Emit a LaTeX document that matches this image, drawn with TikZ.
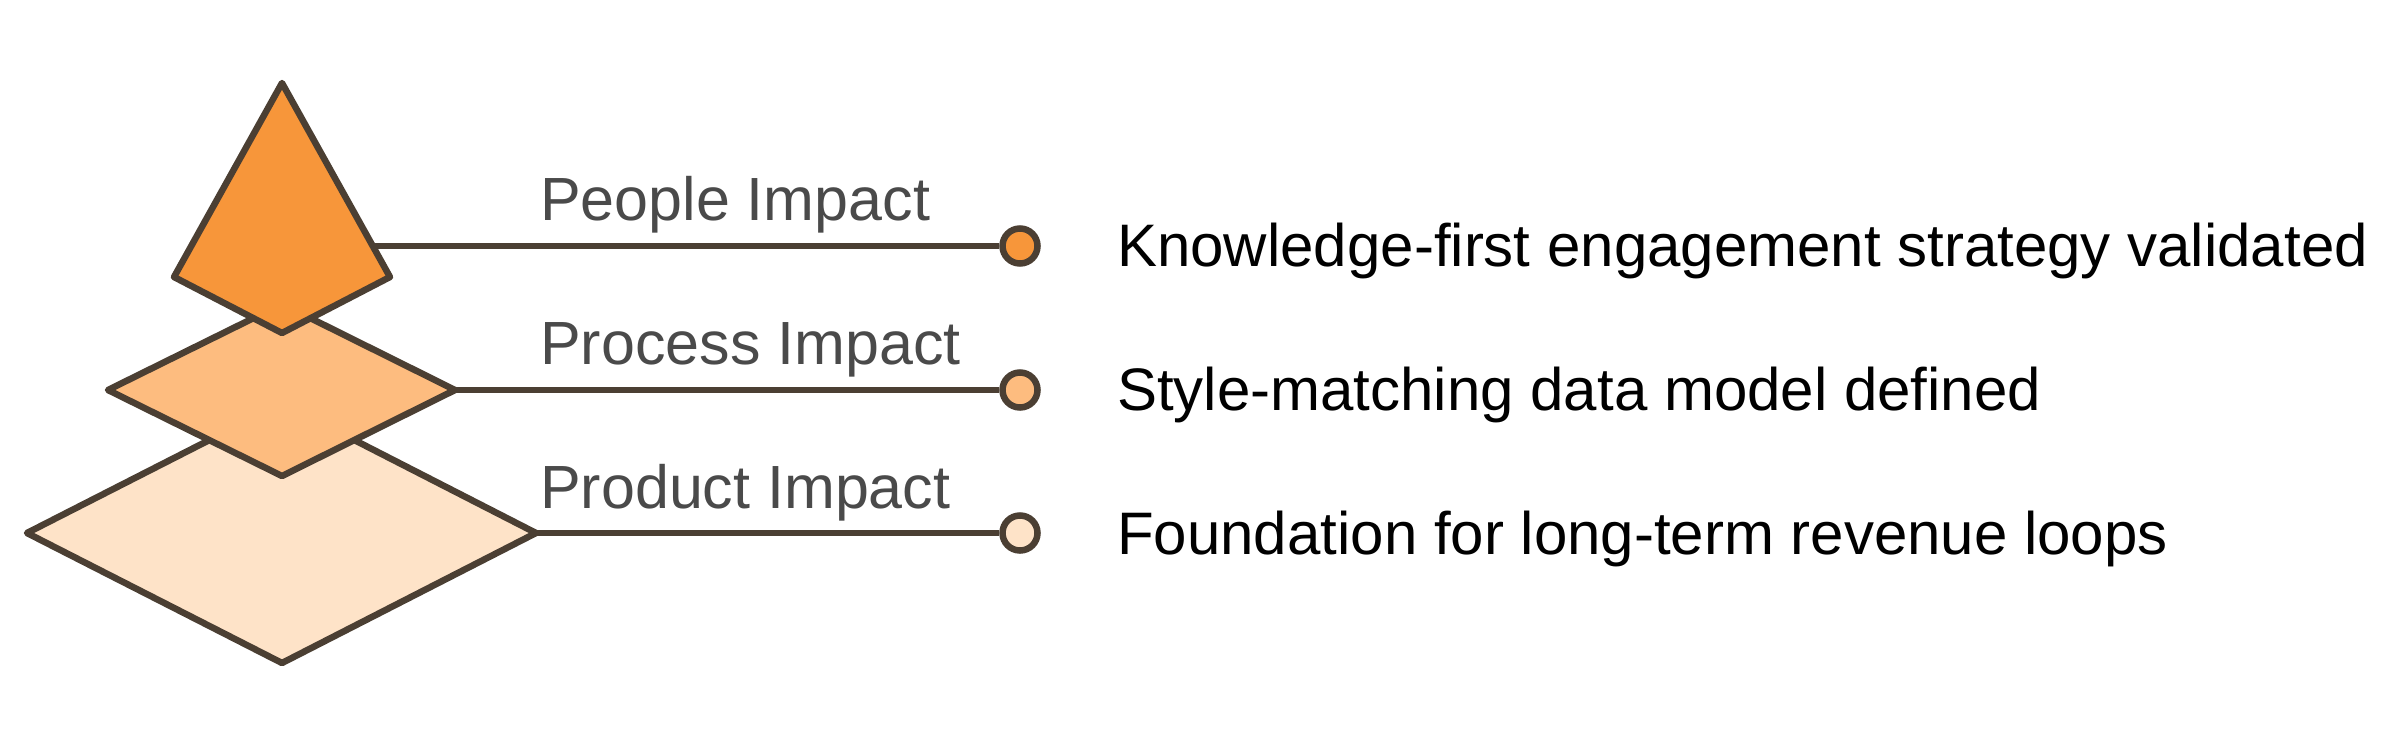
\documentclass[tikz,border=0pt]{standalone}
\usepackage{fontspec}
\setmainfont{Liberation Sans}
\definecolor{strokec}{HTML}{4B3F33}
\definecolor{fillA}{HTML}{F7963A}
\definecolor{fillB}{HTML}{FDBC7F}
\definecolor{fillC}{HTML}{FEE3C8}
\definecolor{labc}{HTML}{4A4A4A}
\begin{document}
\begin{tikzpicture}[x=1pt,y=-1pt,
  layer/.style={draw=strokec,line width=6.5pt,line join=round},
  conn/.style={draw=strokec,line width=6.5pt},
  dot/.style={circle,draw=strokec,line width=6.5pt,minimum size=35pt,inner sep=0pt},
  lab/.style={anchor=base west,inner sep=0pt,text=labc,font=\fontsize{61}{73}\selectfont},
  desc/.style={anchor=base west,inner sep=0pt,text=black,font=\fontsize{60}{72}\selectfont}]
\useasboundingbox (0,0) rectangle (2402,729);
% vertices
\coordinate (bl) at (27,533);  \coordinate (bt) at (282,403);
\coordinate (br) at (536,533); \coordinate (bb) at (282,663);
\coordinate (ml) at (108,390); \coordinate (mt) at (282,304);
\coordinate (mr) at (455,390); \coordinate (mb) at (282,476);
\coordinate (ta) at (282,83);  \coordinate (tl) at (174,277);
\coordinate (tr) at (390,277); \coordinate (tb) at (282,333);
\coordinate (te) at (373,246);
% layers
\filldraw[layer,fill=fillC] (bl) -- (bt) -- (br) -- (bb) -- cycle;
\filldraw[layer,fill=fillB] (ml) -- (mt) -- (mr) -- (mb) -- cycle;
\filldraw[layer,fill=fillA] (ta) -- (tr) -- (tb) -- (tl) -- cycle;
% dots
\node[dot,fill=fillA] (c1) at (1020,246) {};
\node[dot,fill=fillB] (c2) at (1020,390) {};
\node[dot,fill=fillC] (c3) at (1020,533) {};
% connectors
\draw[conn] (te) -- (c1.west);
\draw[conn] (mr) -- (c2.west);
\draw[conn] (br) -- (c3.west);
% labels
\node[lab] (l1) at (540,220) {People Impact};
\node[lab] (l2) at (540,364) {Process Impact};
\node[lab] (l3) at (540,508) {Product Impact};
\node[desc] (d1) at (1117,266) {Knowledge-first engagement strategy validated};
\node[desc] (d2) at (1117,410) {Style-matching data model defined};
\node[desc] (d3) at (1117,554) {Foundation for long-term revenue loops};
\end{tikzpicture}
\end{document}
